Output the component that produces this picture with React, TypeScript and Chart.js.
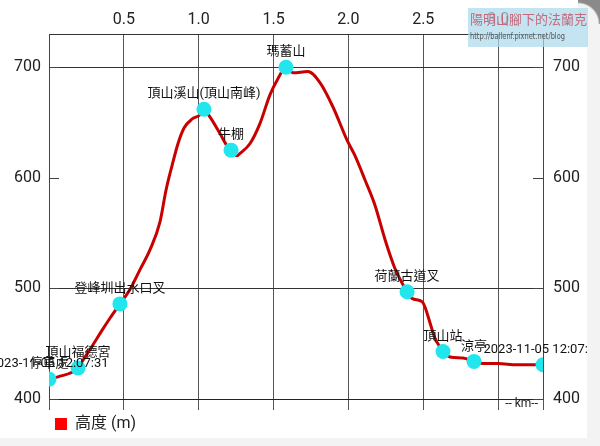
import React, { useEffect, useRef } from "react";
import { Chart, registerables } from "chart.js";

Chart.register(...registerables);

// ---- data ----
const distKm = [0, 0.06, 0.194, 0.227, 0.294, 0.354, 0.407, 0.474, 0.541, 0.608, 0.675, 0.741, 0.782, 0.822, 0.862, 0.902, 0.955, 1.009, 1.035, 1.075, 1.142, 1.189, 1.216, 1.256, 1.276, 1.343, 1.409, 1.476, 1.523, 1.583, 1.63, 1.73, 1.81, 1.897, 1.991, 2.044, 2.111, 2.178, 2.245, 2.311, 2.358, 2.392, 2.425, 2.492, 2.512, 2.545, 2.578, 2.612, 2.632, 2.679, 2.766, 2.839, 2.899, 2.999, 3.126, 3.3];
const elevM = [418, 420, 428, 435, 449, 462, 473, 486, 499, 517, 535, 560, 589, 611, 631, 645, 653, 657, 662, 655, 640, 629, 625, 620, 622, 631, 649, 675, 688, 700, 695, 696, 686, 664, 634, 620, 598, 575, 544, 518, 505, 497, 491, 488, 483, 469, 455, 447, 443, 438, 437, 434, 432, 432, 431, 431];

const wpKm = [0, 0.194, 0.474, 1.035, 1.216, 1.583, 2.392, 2.632, 2.839, 3.3];
const wpElev = [418, 428, 486, 662, 625, 700, 497, 443, 434, 431];
const wpName = ["停車處", "頂山福德宮", "登峰圳出水口叉", "頂山溪山(頂山南峰)", "牛棚", "瑪蓄山", "荷蘭古道叉", "頂山站", "涼亭", ""];
const startTime = "2023-11-05 12:07:31";
const endTime = "2023-11-05 12:07:31";

const xGridKm = [0, 0.5, 1.0, 1.5, 2.0, 2.5, 3.0, 3.3];
const xLabelKm = [0.5, 1.0, 1.5, 2.0, 2.5, 3.0];
const yTicksM = [400, 500, 600, 700];
const yGridLines = [400, 500, 700];
const xMin = 0;
const xMax = 3.3;
const yMin = 400;
const yMax = 730;

const seriesName = "高度 (m)";
const unitLabel = "-- km--";

const FONT = "Roboto, 'Noto Sans CJK TC', sans-serif";

export default function App() {
  const ref = useRef<HTMLCanvasElement>(null);

  useEffect(() => {
    if (!ref.current) return;

    const labelPlugin = {
      id: "wpLabels",
      afterDatasetsDraw(chart: any) {
        const ctx = chart.ctx;
        const meta = chart.getDatasetMeta(1);
        ctx.save();
        ctx.font = `13px ${FONT}`;
        ctx.fillStyle = "#111";
        ctx.textAlign = "center";
        ctx.textBaseline = "middle";
        const n = meta.data.length;
        meta.data.forEach((pt: any, i: number) => {
          const texts: string[] = [];
          if (i === 0) texts.push(startTime);
          if (i === n - 1) texts.push(endTime);
          if (wpName[i]) texts.push(wpName[i]);
          texts.forEach((t) => ctx.fillText(t, pt.x, pt.y - 15));
        });
        ctx.font = `12px ${FONT}`;
        ctx.textAlign = "right";
        ctx.fillStyle = "#222";
        ctx.fillText(unitLabel, chart.chartArea.right - 5, chart.chartArea.bottom + 5);
        ctx.restore();
      },
    };

    const innerTicks = {
      id: "innerTicks",
      beforeDatasetsDraw(chart: any) {
        const { ctx, chartArea } = chart;
        const ys = chart.scales.y;
        ctx.save();
        ctx.strokeStyle = "#444";
        ctx.lineWidth = 1;
        yTicksM.forEach((v) => {
          const py = Math.round(ys.getPixelForValue(v)) + 0.5;
          ctx.beginPath();
          ctx.moveTo(chartArea.left, py);
          ctx.lineTo(chartArea.left + 10, py);
          ctx.moveTo(chartArea.right - 10, py);
          ctx.lineTo(chartArea.right, py);
          ctx.stroke();
        });
        ctx.restore();
      },
    };

    const tickFont = { size: 16, family: FONT };

    const chart = new Chart(ref.current, {
      type: "line",
      data: {
        datasets: [
          {
            label: seriesName,
            data: distKm.map((x, i) => ({ x, y: elevM[i] })),
            borderColor: "#c80000",
            backgroundColor: "#ff0000",
            borderWidth: 3,
            pointRadius: 0,
            cubicInterpolationMode: "monotone",
            fill: false,
            xAxisID: "x",
            yAxisID: "y",
            order: 1,
          },
          {
            label: "waypoints",
            data: wpKm.map((x, i) => ({ x, y: wpElev[i] })),
            showLine: false,
            pointRadius: 7.5,
            pointBackgroundColor: "#22e6ee",
            pointBorderWidth: 0,
            xAxisID: "x",
            yAxisID: "y",
            order: 0,
          },
        ],
      },
      options: {
        animation: false,
        responsive: false,
        events: [],
        layout: { padding: { bottom: 4 } },
        plugins: {
          tooltip: { enabled: false },
          legend: {
            display: true,
            position: "bottom",
            align: "start",
            fullSize: false,
            labels: {
              boxWidth: 12,
              boxHeight: 12,
              padding: 6,
              color: "#222",
              font: { size: 16, family: FONT },
              generateLabels: () => [
                {
                  text: seriesName,
                  fillStyle: "#ff0000",
                  strokeStyle: "#ff0000",
                  lineWidth: 0,
                  hidden: false,
                  datasetIndex: 0,
                  fontColor: "#222",
                },
              ],
            },
          },
        },
        scales: {
          x: {
            type: "linear",
            position: "top",
            min: xMin,
            max: xMax,
            afterBuildTicks: (s: any) => {
              s.ticks = xGridKm.map((value) => ({ value }));
            },
            afterFit: (s: any) => {
              s.height = 34;
            },
            ticks: {
              autoSkip: false,
              maxRotation: 0,
              padding: 4,
              color: "#222",
              font: tickFont,
              callback: (v: any) => (xLabelKm.includes(Number(v)) ? Number(v).toFixed(1) : ""),
            },
            grid: { color: "#555", drawTicks: false, lineWidth: 1 },
            border: { display: true, color: "#333" },
          },
          x2: {
            type: "linear",
            position: "bottom",
            min: xMin,
            max: xMax,
            afterBuildTicks: (s: any) => {
              s.ticks = xGridKm.map((value) => ({ value }));
            },
            afterFit: (s: any) => {
              s.height = 11;
            },
            ticks: { display: false },
            grid: { drawOnChartArea: false, drawTicks: true, tickLength: 11, color: "#555" },
            border: { display: true, color: "#222" },
          },
          y: {
            type: "linear",
            position: "left",
            min: yMin,
            max: yMax,
            afterBuildTicks: (s: any) => {
              s.ticks = yTicksM.map((value) => ({ value }));
            },
            afterFit: (s: any) => {
              s.width = 49;
            },
            ticks: { padding: 8, color: "#222", font: tickFont, callback: (v: any) => String(v) },
            grid: {
              drawTicks: false,
              color: (c: any) => (c.tick && yGridLines.includes(c.tick.value) ? "#333" : "rgba(0,0,0,0)"),
            },
            border: { display: true, color: "#444" },
          },
          y2: {
            type: "linear",
            position: "right",
            min: yMin,
            max: yMax,
            afterBuildTicks: (s: any) => {
              s.ticks = yTicksM.map((value) => ({ value }));
            },
            afterFit: (s: any) => {
              s.width = 44;
            },
            ticks: { padding: 10, color: "#222", font: tickFont, callback: (v: any) => String(v) },
            grid: { display: false, drawTicks: false },
            border: { display: true, color: "#444" },
          },
        },
      },
      plugins: [innerTicks, labelPlugin],
    } as any);

    return () => chart.destroy();
  }, []);

  return (
    <div style={{ position: "fixed", left: 0, top: 0, width: 600, height: 446, background: "#f3f3f3", overflow: "hidden" }}>
      <div style={{ position: "absolute", left: 0, top: 0, width: 587, height: 438, background: "#ffffff" }} />
      <div
        style={{
          position: "absolute",
          left: 578,
          top: 0,
          width: 22,
          height: 24,
          background: "radial-gradient(circle at 0% 100%, #f3f3f3 20px, #8a8a8a 22px)",
        }}
      />
      <canvas ref={ref} width={587} height={446} style={{ position: "absolute", left: 0, top: 0, width: 587, height: 446 }} />
      <div
        style={{
          position: "absolute",
          left: 468,
          top: 8,
          width: 120,
          height: 39,
          background: "rgba(172, 218, 234, 0.72)",
          fontFamily: "'Noto Sans CJK TC', sans-serif",
        }}
      >
        <div style={{ position: "absolute", left: 2, top: 3, fontSize: 13, lineHeight: "16px", color: "#c46a7c", whiteSpace: "nowrap" }}>
          陽明山腳下的法蘭克
        </div>
        <div
          style={{
            position: "absolute",
            left: 2,
            top: 22,
            fontSize: 9,
            lineHeight: "12px",
            color: "#555",
            whiteSpace: "nowrap",
            fontFamily: "'DejaVu Sans Condensed', 'Liberation Sans Narrow', sans-serif",
            transform: "scaleX(0.82)",
            transformOrigin: "left",
          }}
        >
          http://ballenf.pixnet.net/blog
        </div>
      </div>
    </div>
  );
}
